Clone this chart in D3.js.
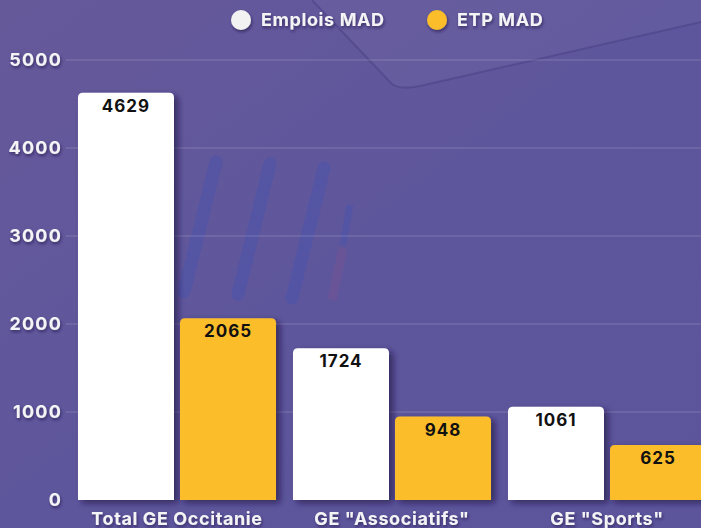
<!DOCTYPE html>
<meta charset="utf-8">
<head>
  <script src="https://d3js.org/d3.v7.min.js"></script>
  <style>
    body {
      margin: 0;
      background: #5e569b;
      font-family: Inter, "Open Sans", sans-serif;
    }
    .tick-label, .cat-label, .legend-label {
      fill: #f4f4f6;
      font-weight: 700;
    }
    .val-label {
      fill: #111;
      font-weight: 700;
    }
  </style>
</head>
<body>
  <div id="chart"></div>
  <script>
    var categories = ["Total GE Occitanie", "GE \"Associatifs\"", "GE \"Sports\""];
    var series = ["Emplois MAD", "ETP MAD"];
    var emploisMAD = [4629, 1724, 1061];
    var etpMAD = [2065, 948, 625];
    var yTicks = [0, 1000, 2000, 3000, 4000, 5000];
    var colors = ["#ffffff", "#fbbd2c"];

    var width = 701, height = 528;

    var svg = d3.select("#chart")
      .append("svg")
      .attr("width", width)
      .attr("height", height);

    var defs = svg.append("defs");

    // soft background
    var bg = defs.append("linearGradient").attr("id", "bg")
      .attr("x1", "0").attr("y1", "0").attr("x2", "1").attr("y2", "1");
    bg.append("stop").attr("offset", "0").attr("stop-color", "#66599a");
    bg.append("stop").attr("offset", "0.5").attr("stop-color", "#5e569c");
    bg.append("stop").attr("offset", "1").attr("stop-color", "#5c559c");

    var shadow = defs.append("filter").attr("id", "shadow")
      .attr("x", "-20%").attr("y", "-20%").attr("width", "140%").attr("height", "140%");
    shadow.append("feDropShadow")
      .attr("dx", 4).attr("dy", 3).attr("stdDeviation", 3)
      .attr("flood-color", "#1c1640").attr("flood-opacity", 0.65);

    var tshadow = defs.append("filter").attr("id", "tshadow")
      .attr("x", "-20%").attr("y", "-40%").attr("width", "140%").attr("height", "180%");
    tshadow.append("feDropShadow")
      .attr("dx", 1).attr("dy", 2).attr("stdDeviation", 1.5)
      .attr("flood-color", "#1c1640").attr("flood-opacity", 0.6);

    svg.append("rect")
      .attr("width", width).attr("height", height)
      .style("fill", "url(#bg)");

    // faint paper corner at the top of the background photo
    svg.append("path")
      .attr("d", "M312,0 L392,84 Q400,90 420,86 L701,22 L701,0 Z")
      .style("fill", "#ffffff").style("opacity", 0.035);
    svg.append("path")
      .attr("d", "M312,0 L392,84 Q400,90 420,86 L701,22")
      .style("fill", "none").style("stroke", "#3d3478")
      .style("stroke-width", 2).style("opacity", 0.35);

    // faint decorative strokes from the background photo
    [[216, 162], [270, 164], [324, 168]].forEach(function (p) {
      svg.append("line")
        .attr("x1", p[0]).attr("y1", p[1])
        .attr("x2", p[0] - 32).attr("y2", p[1] + 130)
        .style("stroke", "#4a54ac").style("stroke-width", 13)
        .style("stroke-linecap", "round").style("opacity", 0.5);
    });
    svg.append("line")
      .attr("x1", 350).attr("y1", 205).attr("x2", 343).attr("y2", 245)
      .style("stroke", "#4a54ac").style("stroke-width", 7).style("opacity", 0.5);
    svg.append("line")
      .attr("x1", 343).attr("y1", 248).attr("x2", 332).attr("y2", 300)
      .style("stroke", "#7a5290").style("stroke-width", 9).style("opacity", 0.4);

    var margin = { left: 69.5, bottom: 28 };

    var y = d3.scaleLinear()
      .domain([0, 5000])
      .range([500, 60]);

    var x0 = d3.scaleBand()
      .domain(categories)
      .range([margin.left, margin.left + 645])
      .paddingInner(0.079)
      .paddingOuter(0.0395);

    var x1 = d3.scaleBand()
      .domain(series)
      .range([0, x0.bandwidth()])
      .paddingInner(0.0588);

    // grid lines
    svg.append("g")
      .selectAll("line")
      .data(yTicks.slice(1))
      .enter()
      .append("line")
      .attr("x1", 66).attr("x2", width)
      .attr("y1", function (d) { return y(d); })
      .attr("y2", function (d) { return y(d); })
      .style("stroke", "#ffffff")
      .style("stroke-opacity", 0.2)
      .style("stroke-width", 1);

    // y tick labels
    svg.append("g")
      .selectAll("text")
      .data(yTicks)
      .enter()
      .append("text")
      .attr("class", "tick-label")
      .attr("x", 62)
      .attr("y", function (d) { return y(d); })
      .attr("dy", "0.36em")
      .attr("text-anchor", "end")
      .attr("font-size", 18)
      .attr("letter-spacing", "1.2")
      .attr("filter", "url(#tshadow)")
      .text(function (d) { return d; });

    var r = 5;
    function topRounded(xp, yp, w, h) {
      return "M" + xp + "," + (yp + h) +
        "V" + (yp + r) +
        "Q" + xp + "," + yp + " " + (xp + r) + "," + yp +
        "H" + (xp + w - r) +
        "Q" + (xp + w) + "," + yp + " " + (xp + w) + "," + (yp + r) +
        "V" + (yp + h) + "Z";
    }

    var groups = svg.append("g")
      .selectAll("g")
      .data(categories)
      .enter()
      .append("g")
      .attr("transform", function (d) { return "translate(" + x0(d) + ",0)"; });

    groups.each(function (cat, i) {
      var g = d3.select(this);
      var vals = [emploisMAD[i], etpMAD[i]];
      vals.forEach(function (v, j) {
        var bx = x1(series[j]);
        var by = y(v);
        g.append("path")
          .attr("d", topRounded(bx, by, x1.bandwidth(), y(0) - by))
          .style("fill", colors[j])
          .attr("filter", "url(#shadow)");
        g.append("text")
          .attr("class", "val-label")
          .attr("x", bx + x1.bandwidth() / 2)
          .attr("y", by + 19)
          .attr("text-anchor", "middle")
          .attr("font-size", 17)
          .attr("letter-spacing", "1")
          .text(v);
      });
      g.append("text")
        .attr("class", "cat-label")
        .attr("x", x0.bandwidth() / 2)
        .attr("y", 525)
        .attr("text-anchor", "middle")
        .attr("font-size", 18)
        .attr("letter-spacing", "0.6")
        .attr("filter", "url(#tshadow)")
        .text(cat);
    });

    // legend
    var legend = svg.append("g");
    var legendPos = [241, 437];
    series.forEach(function (s, j) {
      legend.append("circle")
        .attr("cx", legendPos[j]).attr("cy", 20).attr("r", 10)
        .style("fill", colors[j] === "#ffffff" ? "#f2f2f2" : colors[j])
        .attr("filter", "url(#tshadow)");
      legend.append("text")
        .attr("class", "legend-label")
        .attr("x", legendPos[j] + 20)
        .attr("y", 20)
        .attr("dy", "0.36em")
        .attr("font-size", 18)
        .attr("letter-spacing", "0.6")
        .attr("filter", "url(#tshadow)")
        .text(s);
    });
  </script>
</body>
</html>
